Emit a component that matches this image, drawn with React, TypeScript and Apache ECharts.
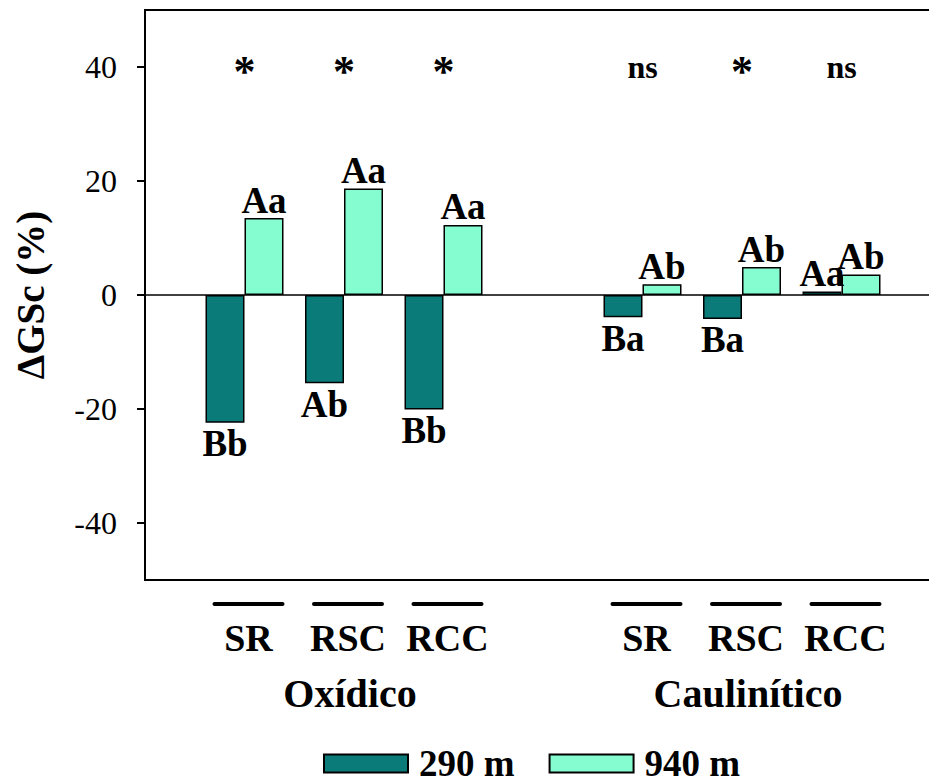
import React, { useEffect, useRef } from "react";
import * as echarts from "echarts";

// Soil groups and management systems along the x axis
const soils = ["Oxídico", "Caulinítico"];
const treatments = ["SR", "RSC", "RCC"];

// ΔGSc (%) per soil × management, in soil-major order
const values290 = [-22.4, -15.5, -20.1, -3.9, -4.2, 0.6];
const values940 = [13.5, 18.7, 12.3, 1.9, 4.9, 3.6];

// Mean-comparison letters printed next to each bar
const letters290 = ["Bb", "Ab", "Bb", "Ba", "Ba", "Aa"];
const letters940 = ["Aa", "Aa", "Aa", "Ab", "Ab", "Ab"];

// Significance between altitudes for each soil × management pair
const significance = ["*", "*", "*", "ns", "*", "ns"];
const significanceLevel = 40;

// Y axis ticks
const yTicks = [-40, -20, 0, 20, 40];

const seriesNames = ["290 m", "940 m"];
const colors = ["#0b7b7a", "#86fdd0"];
const FONT = "'Liberation Serif', 'Times New Roman', serif";

// Category slots: an empty slot at each edge and one between the soil groups
const slots: string[] = ["edge-l"];
soils.forEach((s, g) => {
  treatments.forEach((t) => slots.push(`${s}|${t}`));
  if (g < soils.length - 1) slots.push("gap");
});
slots.push("edge-r");

const slotIndex = (k: number) => 1 + Math.floor(k / 3) * 4 + (k % 3);

function barData(values: number[], letters: string[]) {
  const out: any[] = slots.map(() => "-");
  values.forEach((v, k) => {
    out[slotIndex(k)] = {
      value: v,
      label: {
        show: true,
        position: v < 0 ? "bottom" : "top",
        distance: v < 0 ? 3 : 0,
        formatter: letters[k],
      },
    };
  });
  return out;
}

function sigData() {
  return significance.map((m, k) => ({
    value: [slots[slotIndex(k)], significanceLevel],
    label: {
      show: true,
      position: "inside",
      formatter: m,
      color: "#000",
      fontFamily: FONT,
      fontWeight: "bold",
      fontSize: m === "*" ? 44 : 32,
      textBorderWidth: 0,
      offset: m === "*" ? [0, 4] : [0, 0],
    },
  }));
}

export default function App() {
  const ref = useRef<HTMLDivElement>(null);

  useEffect(() => {
    if (!ref.current) return;
    const chart = echarts.init(ref.current, null, { renderer: "svg" });

    const barLabel = {
      fontFamily: FONT,
      fontWeight: "bold",
      fontSize: 37,
      lineHeight: 36,
      color: "#000",
    };

    chart.setOption({
      animation: false,
      backgroundColor: "#fff",
      textStyle: { fontFamily: FONT, color: "#000" },
      grid: {
        left: 145,
        top: 10,
        right: 0,
        bottom: 204,
        show: true,
        borderColor: "#000",
        borderWidth: 2,
        backgroundColor: "transparent",
        containLabel: false,
        outerBoundsMode: "none",
      },
      legend: {
        data: seriesNames,
        left: 318,
        top: 740,
        itemWidth: 84,
        itemHeight: 18,
        itemGap: 34,
        icon: "rect",
        selectedMode: false,
        textStyle: {
          fontFamily: FONT,
          fontWeight: "bold",
          fontSize: 37,
          lineHeight: 30,
          color: "#000",
          padding: [0, 0, 0, 6],
        },
      },
      xAxis: [
        {
          type: "category",
          data: slots,
          boundaryGap: false,
          axisLine: { show: false },
          axisTick: { show: false },
          splitLine: { show: false },
          axisLabel: {
            interval: 0,
            margin: 22,
            padding: [0, 0, 0, 8],
            formatter: (v: string) => {
              const parts = v.split("|");
              return parts.length === 2 ? `{u| }\n{t|${parts[1]}}` : "";
            },
            rich: {
              u: {
                width: 72,
                height: 4,
                lineHeight: 4,
                fontSize: 4,
                backgroundColor: "#000",
                borderRadius: 2,
              },
              t: {
                fontFamily: FONT,
                fontWeight: "bold",
                fontSize: 38,
                lineHeight: 64,
                color: "#000",
              },
            },
          },
        },
        {
          type: "category",
          data: slots,
          boundaryGap: false,
          position: "bottom",
          axisLine: { show: false },
          axisTick: { show: false },
          splitLine: { show: false },
          axisLabel: {
            interval: 0,
            margin: 93,
            padding: [0, 0, 0, 12],
            fontFamily: FONT,
            fontWeight: "bold",
            fontSize: 40,
            lineHeight: 40,
            color: "#000",
            formatter: (v: string) => {
              const parts = v.split("|");
              return parts.length === 2 && parts[1] === treatments[1] ? parts[0] : "";
            },
          },
        },
      ],
      yAxis: {
        type: "value",
        min: -50,
        max: 50,
        name: "ΔGSc (%)",
        nameLocation: "middle",
        nameRotate: 90,
        nameGap: 95,
        nameTextStyle: {
          fontFamily: FONT,
          fontWeight: "bold",
          fontSize: 39,
          color: "#000",
        },
        axisLine: { show: true, lineStyle: { color: "#000", width: 2 } },
        axisTick: {
          show: true,
          inside: false,
          length: 8,
          customValues: yTicks,
          lineStyle: { color: "#000", width: 2 },
        },
        axisLabel: {
          customValues: yTicks,
          margin: 28,
          fontFamily: FONT,
          fontSize: 32,
          color: "#000",
        },
        splitLine: { show: false },
      },
      series: [
        {
          name: seriesNames[0],
          type: "bar",
          barWidth: 39,
          barGap: "0%",
          itemStyle: { color: colors[0], borderColor: "#000", borderWidth: 1.5 },
          label: barLabel,
          data: barData(values290, letters290),
          markLine: {
            silent: true,
            symbol: ["none", "none"],
            label: { show: false },
            lineStyle: { color: "#000", width: 1.5, type: "solid" },
            data: [{ yAxis: 0 }],
          },
        },
        {
          name: seriesNames[1],
          type: "bar",
          barWidth: 39,
          barGap: "0%",
          itemStyle: { color: colors[1], borderColor: "#000", borderWidth: 1.5 },
          label: barLabel,
          data: barData(values940, letters940),
        },
        {
          name: "significance",
          type: "scatter",
          symbolSize: 1,
          itemStyle: { color: "transparent", opacity: 1 },
          data: sigData(),
        },
      ],
    });

    return () => chart.dispose();
  }, []);

  // The chart canvas runs slightly past the visible frame on the right,
  // so the plot's right border falls outside the clipped viewport.
  return (
    <div
      style={{
        position: "absolute",
        left: 0,
        top: 0,
        width: 929,
        height: 784,
        overflow: "hidden",
        background: "#fff",
      }}
    >
      <div ref={ref} style={{ width: 941, height: 784 }} />
    </div>
  );
}
